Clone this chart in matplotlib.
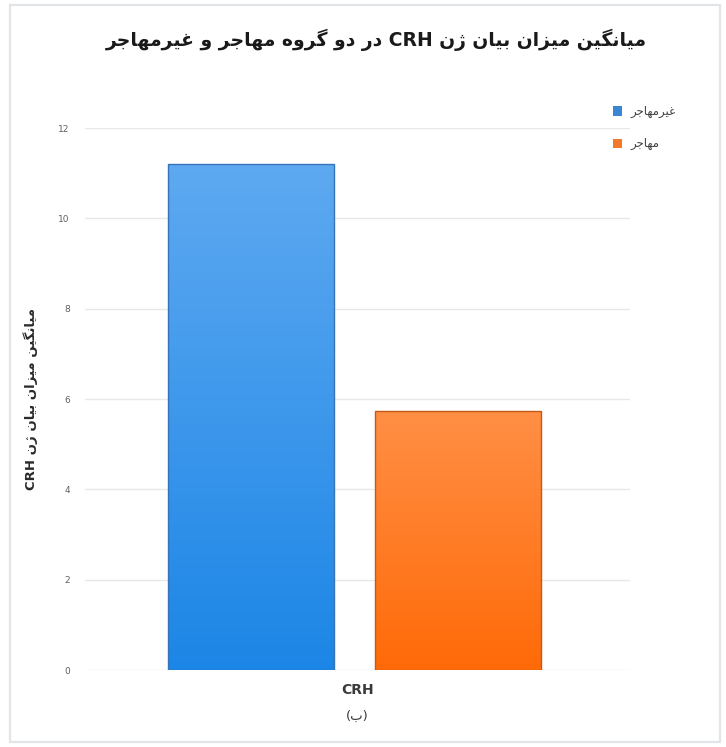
import matplotlib
matplotlib.use("Agg")
import matplotlib.pyplot as plt
import numpy as np
from matplotlib.colors import LinearSegmentedColormap
from matplotlib.patches import Rectangle

# ---------------- data ----------------
title_text = "میانگین میزان بیان ژن CRH در دو گروه مهاجر و غیرمهاجر"
ylabel_text = "میانگین میزان بیان ژن CRH"
category = "CRH"
panel_tag = "(ب)"
series_names = ["غیرمهاجر", "مهاجر"]
series_values = [11.2, 5.73]
y_ticks = [0, 2, 4, 6, 8, 10, 12]

# gradient colours (top, bottom) and edge colours for each series
series_grad = [("#5ea9f1", "#1c86e6"), ("#ff8f45", "#ff6a08")]
series_edge = ["#3673b8", "#c55a16"]
series_legend = ["#3b86d4", "#f07a2a"]

# ---------------- minimal Persian shaping / bidi ----------------
# letter: (isolated, final, initial, medial) ; None for non-dual-joining
FORMS = {
    "ا": ("\uFE8D", "\uFE8E", None, None),
    "ب": ("\uFE8F", "\uFE90", "\uFE91", "\uFE92"),
    "پ": ("\uFB56", "\uFB57", "\uFB58", "\uFB59"),
    "ج": ("\uFE9D", "\uFE9E", "\uFE9F", "\uFEA0"),
    "د": ("\uFEA9", "\uFEAA", None, None),
    "ر": ("\uFEAD", "\uFEAE", None, None),
    "ز": ("\uFEAF", "\uFEB0", None, None),
    "ژ": ("\uFB8A", "\uFB8B", None, None),
    "غ": ("\uFECD", "\uFECE", "\uFECF", "\uFED0"),
    "م": ("\uFEE1", "\uFEE2", "\uFEE3", "\uFEE4"),
    "ن": ("\uFEE5", "\uFEE6", "\uFEE7", "\uFEE8"),
    "ه": ("\uFEE9", "\uFEEA", "\uFEEB", "\uFEEC"),
    "و": ("\uFEED", "\uFEEE", None, None),
    "ی": ("\uFBFC", "\uFBFD", "\uFBFE", "\uFBFF"),
    "گ": ("\uFB92", "\uFB93", "\uFB94", "\uFB95"),
    "ک": ("\uFB8E", "\uFB8F", "\uFB90", "\uFB91"),
}
MIRROR = {"(": ")", ")": "("}


def _dual(ch):
    return ch in FORMS and FORMS[ch][2] is not None


def shape(text):
    out = []
    for i, ch in enumerate(text):
        if ch not in FORMS:
            out.append(ch)
            continue
        prev_c = i > 0 and _dual(text[i - 1])
        next_c = i + 1 < len(text) and text[i + 1] in FORMS
        iso, fin, ini, med = FORMS[ch]
        if ini is None:
            out.append(fin if prev_c else iso)
        elif prev_c and next_c:
            out.append(med)
        elif prev_c:
            out.append(fin)
        elif next_c:
            out.append(ini)
        else:
            out.append(iso)
    return "".join(out)


def rtl(text):
    shaped = shape(text)
    runs, cur, cur_ltr = [], "", None
    for ch in shaped:
        is_ltr = ch.isascii() and ch.isalnum()
        if cur and is_ltr != cur_ltr:
            runs.append((cur, cur_ltr))
            cur = ""
        cur += ch
        cur_ltr = is_ltr
    if cur:
        runs.append((cur, cur_ltr))
    visual = []
    for seg, is_ltr in reversed(runs):
        if is_ltr:
            visual.append(seg)
        else:
            visual.append("".join(MIRROR.get(c, c) for c in reversed(seg)))
    return "".join(visual)


plt.rcParams["font.family"] = ["DejaVu Sans"]

# ---------------- figure ----------------
W, H = 726, 747
fig = plt.figure(figsize=(W / 100, H / 100), dpi=100)
fig.patch.set_facecolor("white")

# outer frame
fig.patches.append(Rectangle((10 / W, 5 / H), 710 / W, 737 / H, transform=fig.transFigure,
                             fill=False, edgecolor="#e2e4e8", linewidth=1.6))

ax = fig.add_axes([85 / W, 1 - 670 / H, 545 / W, 542 / H])
ax.set_facecolor("none")

offsets = [-0.195, 0.185]
bar_w = 0.305
bars = []
for name, val, off, edge in zip(series_names, series_values, offsets, series_edge):
    b = ax.bar(off, val, width=bar_w, facecolor="none", edgecolor=edge,
               linewidth=1.0, zorder=3)
    bars.append(b[0])

# vertical gradient inside each bar
for patch, (c_top, c_bot) in zip(bars, series_grad):
    bb = patch.get_bbox()
    cmap = LinearSegmentedColormap.from_list("g", [c_bot, c_top])
    grad = np.linspace(1, 0, 256).reshape(-1, 1)
    im = ax.imshow(grad, cmap=cmap, aspect="auto", zorder=2,
                   extent=[bb.x0, bb.x1, bb.y0, bb.y1], interpolation="bicubic")
    im.set_clip_path(patch)

ax.set_xlim(-0.5, 0.5)
ax.set_ylim(0, 12)
ax.set_yticks(y_ticks)
ax.set_yticklabels([str(t) for t in y_ticks])
ax.tick_params(axis="y", length=0, pad=11, labelsize=6.5, labelcolor="#606060")
ax.set_xticks([0])
ax.set_xticklabels([category], fontsize=10, fontweight="bold", color="#3a3a3a")
ax.tick_params(axis="x", length=0, pad=9)
ax.grid(axis="y", color="#e8e8e8", linewidth=1.0, zorder=0)
ax.set_axisbelow(True)
for s in ax.spines.values():
    s.set_visible(False)

ax.set_ylabel(rtl(ylabel_text), fontsize=9.5, fontweight="bold", color="#2a2a2a")
ax.yaxis.set_label_coords(-0.086, 0.5)

ax.text(0.5, -0.085, rtl(panel_tag), transform=ax.transAxes,
        ha="center", va="center", fontsize=9.5, color="#3a3a3a")

# title
fig.text(376 / W, 1 - 40 / H, rtl(title_text), ha="center", va="center",
         fontsize=13.5, fontweight="bold", color="#1a1a1a")

# legend
for i, (name, col) in enumerate(zip(series_names, series_legend)):
    yy = 1 - (111 + 33 * i) / H
    fig.patches.append(Rectangle((613 / W, yy - 4.5 / H), 9 / W, 9 / H,
                                 transform=fig.transFigure, facecolor=col,
                                 edgecolor="none"))
    fig.text(630 / W, yy, rtl(name), ha="left", va="center", fontsize=8.5,
             color="#404040")

fig.savefig("out.png", dpi=100)
